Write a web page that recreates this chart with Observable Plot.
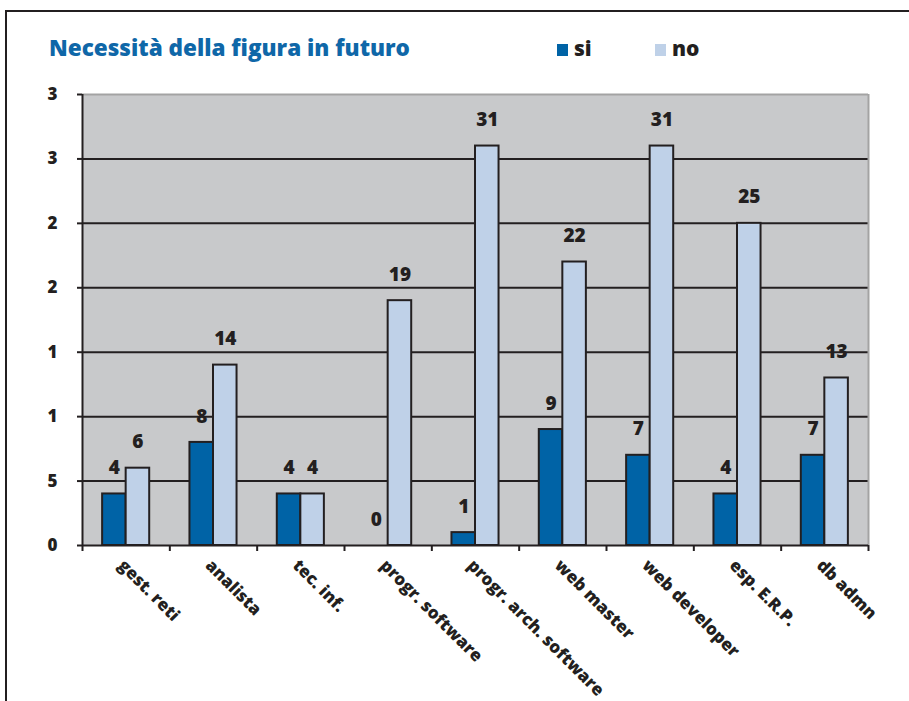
<!DOCTYPE html>
<html>
<head>
<meta charset="utf-8">
<script src="https://cdn.jsdelivr.net/npm/d3@7"></script>
<script src="https://cdn.jsdelivr.net/npm/@observablehq/plot@0.6"></script>
<style>
  html, body { margin: 0; padding: 0; background: #fff; width: 909px; height: 701px; overflow: hidden; }
  #wrap { position: relative; width: 909px; height: 701px; font-family: "Open Sans", sans-serif; }
  #border { position: absolute; left: 5px; top: 10px; width: 920px; height: 720px; border-left: 2px solid #231f20; border-top: 2px solid #231f20; }
  #title { position: absolute; left: 49px; top: 32px; font-size: 22.5px; font-weight: 800; color: #0f67a8; white-space: nowrap; }
  .leg { position: absolute; top: 34px; font-size: 21px; font-weight: 800; color: #231f20; white-space: nowrap; }
  .sw { display: inline-block; width: 11px; height: 12px; margin-right: 6px; vertical-align: 0px; }
  #chart { position: absolute; left: 0; top: 0; }
</style>
</head>
<body>
<div id="wrap">
  <div id="border"></div>
  <div id="chart"></div>
  <div id="title">Necessità della figura in futuro</div>
  <div id="legend"></div>
</div>
<script>
const categories = ["gest. reti", "analista", "tec. inf.", "progr. software", "progr. arch. software", "web master", "web developer", "esp. E.R.P.", "db admn"];
const seriesNames = ["si", "no"];
const siValues = [4, 8, 4, 0, 1, 9, 7, 4, 7];
const noValues = [6, 14, 4, 19, 31, 22, 31, 25, 13];
const yTicks = [0, 5, 10, 15, 20, 25, 30, 35];
const yTickLabels = ["0", "5", "1", "1", "2", "2", "3", "3"];
const colors = ["#0063a6", "#bfd1e8"];

// Excel-like clustered column layout (gap width ~171%)
const gapWidth = 1.71;
const barW = 1 / (seriesNames.length + gapWidth);
const offset0 = (gapWidth / 2) * barW;

const table = [];
categories.forEach((c, i) => {
  [siValues, noValues].forEach((vals, s) => {
    table.push({
      category: c,
      index: i,
      series: seriesNames[s],
      value: vals[i],
      x1: i + offset0 + s * barW,
      x2: i + offset0 + (s + 1) * barW
    });
  });
});

// legend
const legend = document.getElementById("legend");
const legendX = [557, 655];
seriesNames.forEach((s, k) => {
  const d = document.createElement("div");
  d.className = "leg";
  d.style.left = legendX[k] + "px";
  d.innerHTML = `<span class="sw" style="background:${colors[k]}"></span>${s}`;
  legend.appendChild(d);
});

const ink = "#231f20";
const chart = Plot.plot({
  width: 909,
  height: 701,
  marginLeft: 82,
  marginRight: 41,
  marginTop: 94,
  marginBottom: 156,
  x: { type: "linear", domain: [0, categories.length], axis: null },
  y: { domain: [0, 35], axis: null },
  color: { domain: seriesNames, range: colors },
  style: { fontFamily: "Open Sans, sans-serif", fontWeight: "800", color: ink, background: "transparent", overflow: "visible" },
  marks: [
    Plot.frame({ fill: "#c8c9cb", stroke: null }),
    Plot.ruleY(yTicks.slice(1, -1), { stroke: ink, strokeWidth: 2 }),
    Plot.ruleY([35], { stroke: "#a3a3a3", strokeWidth: 2 }),
    Plot.ruleX([categories.length], { stroke: "#a3a3a3", strokeWidth: 2 }),
    Plot.rect(table, { x1: "x1", x2: "x2", y1: 0, y2: "value", fill: "series", stroke: ink, strokeWidth: 2 }),
    Plot.text(table, {
      x: d => (d.x1 + d.x2) / 2,
      y: "value",
      text: d => String(d.value),
      dy: -26,
      fontSize: 19,
      fontWeight: "800",
      fill: ink
    }),
    Plot.ruleX([0], { stroke: ink, strokeWidth: 2 }),
    Plot.ruleY([0], { stroke: ink, strokeWidth: 2 }),
    Plot.axisY({
      ticks: yTicks,
      tickFormat: (d) => yTickLabels[yTicks.indexOf(d)],
      label: null,
      tickSize: 5,
      tickPadding: 20,
      fontSize: 17,
      fontWeight: "800",
      strokeWidth: 2,
      stroke: ink,
      fill: ink
    }),
    Plot.axisX({
      ticks: d3.range(categories.length + 1),
      tickFormat: () => "",
      label: null,
      tickSize: 6,
      strokeWidth: 2,
      stroke: ink
    }),
    Plot.text(categories, {
      x: (d, i) => i + 0.5,
      frameAnchor: "bottom",
      text: d => d,
      rotate: 45,
      textAnchor: "start",
      dx: -9,
      dy: 21,
      fontSize: 17,
      fontWeight: "800",
      fill: ink
    })
  ]
});
document.getElementById("chart").appendChild(chart);
</script>
</body>
</html>
